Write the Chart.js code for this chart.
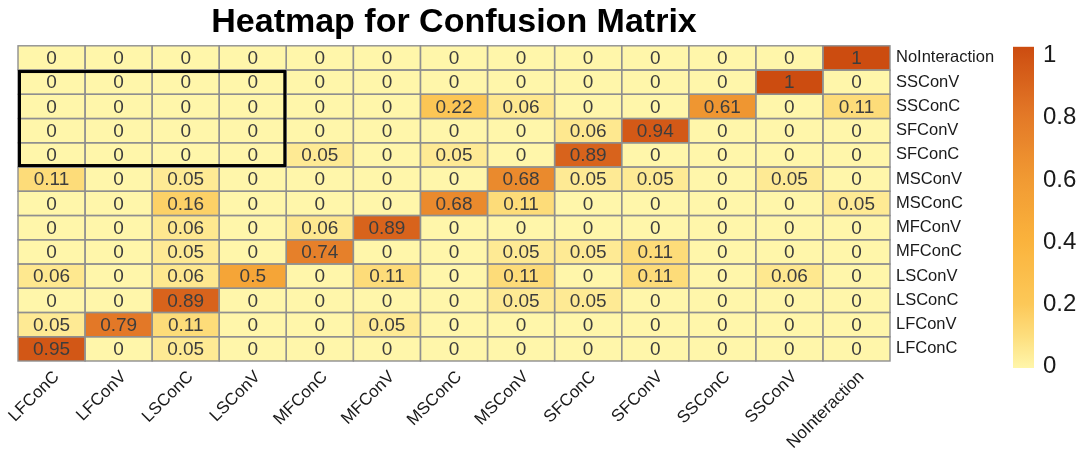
<!DOCTYPE html>
<html>
<head>
<meta charset="utf-8">
<script src="https://cdn.jsdelivr.net/npm/chart.js@4.4.0/dist/chart.umd.min.js"></script>
<style>html,body{margin:0;background:#fff}</style>
</head>
<body>
<canvas id="heatmap" width="1082" height="451"></canvas>
<script>
// predicted classes along the bottom, actual classes on the right (bottom -> top)
const predicted = ["LFConC", "LFConV", "LSConC", "LSConV", "MFConC", "MFConV", "MSConC", "MSConV", "SFConC", "SFConV", "SSConC", "SSConV", "NoInteraction"];
const actual = ["LFConC", "LFConV", "LSConC", "LSConV", "MFConC", "MFConV", "MSConC", "MSConV", "SFConC", "SFConV", "SSConC", "SSConV", "NoInteraction"];

const rowNoInteraction = [0, 0, 0, 0, 0, 0, 0, 0, 0, 0, 0, 0, 1];
const rowSSConV = [0, 0, 0, 0, 0, 0, 0, 0, 0, 0, 0, 1, 0];
const rowSSConC = [0, 0, 0, 0, 0, 0, 0.22, 0.06, 0, 0, 0.61, 0, 0.11];
const rowSFConV = [0, 0, 0, 0, 0, 0, 0, 0, 0.06, 0.94, 0, 0, 0];
const rowSFConC = [0, 0, 0, 0, 0.05, 0, 0.05, 0, 0.89, 0, 0, 0, 0];
const rowMSConV = [0.11, 0, 0.05, 0, 0, 0, 0, 0.68, 0.05, 0.05, 0, 0.05, 0];
const rowMSConC = [0, 0, 0.16, 0, 0, 0, 0.68, 0.11, 0, 0, 0, 0, 0.05];
const rowMFConV = [0, 0, 0.06, 0, 0.06, 0.89, 0, 0, 0, 0, 0, 0, 0];
const rowMFConC = [0, 0, 0.05, 0, 0.74, 0, 0, 0.05, 0.05, 0.11, 0, 0, 0];
const rowLSConV = [0.06, 0, 0.06, 0.5, 0, 0.11, 0, 0.11, 0, 0.11, 0, 0.06, 0];
const rowLSConC = [0, 0, 0.89, 0, 0, 0, 0, 0.05, 0.05, 0, 0, 0, 0];
const rowLFConV = [0.05, 0.79, 0.11, 0, 0, 0.05, 0, 0, 0, 0, 0, 0, 0];
const rowLFConC = [0.95, 0, 0.05, 0, 0, 0, 0, 0, 0, 0, 0, 0, 0];

// same order as `actual` (bottom row first)
const matrix = [rowLFConC, rowLFConV, rowLSConC, rowLSConV, rowMFConC, rowMFConV,
  rowMSConC, rowMSConV, rowSFConC, rowSFConV, rowSSConC, rowSSConV, rowNoInteraction];

// highlighted block
const boxCols = ["LFConC", "LSConV"];
const boxRows = ["SFConC", "SSConV"];

const legendTicks = [0, 0.2, 0.4, 0.6, 0.8, 1];

const colorStops = [
  [0, [255, 246, 170]],
  [0.1, [253, 222, 125]],
  [0.2, [252, 200, 88]],
  [0.4, [250, 178, 60]],
  [0.6, [240, 152, 50]],
  [0.8, [226, 118, 38]],
  [1, [204, 76, 16]]
];

function fillColor(v) {
  for (let i = 1; i < colorStops.length; i++) {
    const [v1, c1] = colorStops[i];
    const [v0, c0] = colorStops[i - 1];
    if (v <= v1) {
      const t = (v - v0) / (v1 - v0);
      const c = c0.map((a, k) => Math.round(a + (c1[k] - a) * t));
      return "rgb(" + c.join(",") + ")";
    }
  }
  return "rgb(" + colorStops[colorStops.length - 1][1].join(",") + ")";
}

const FONT = "'Liberation Sans', Arial, sans-serif";

const cellPlugin = {
  id: "cells",
  afterDatasetsDraw(chart) {
    const ctx = chart.ctx;
    ctx.save();
    // cell outlines
    ctx.strokeStyle = "#8f8f8f";
    ctx.lineWidth = 1.4;
    chart.data.datasets.forEach((ds, i) => {
      chart.getDatasetMeta(i).data.forEach(el => {
        ctx.strokeRect(el.x - el.width / 2, el.y, el.width, el.base - el.y);
      });
    });
    // values
    ctx.fillStyle = "#3d3d3d";
    ctx.font = "19px " + FONT;
    ctx.textAlign = "center";
    ctx.textBaseline = "middle";
    chart.data.datasets.forEach((ds, i) => {
      chart.getDatasetMeta(i).data.forEach((el, j) => {
        ctx.fillText(String(ds.values[j]), el.x, (el.y + el.base) / 2 + 1);
      });
    });
    // black box
    const c0 = predicted.indexOf(boxCols[0]), c1 = predicted.indexOf(boxCols[1]);
    const r0 = actual.indexOf(boxRows[0]), r1 = actual.indexOf(boxRows[1]);
    const a = chart.getDatasetMeta(r1).data[c0];
    const b = chart.getDatasetMeta(r0).data[c1];
    const lw = 3;
    ctx.strokeStyle = "#000";
    ctx.lineWidth = lw;
    ctx.strokeRect(a.x - a.width / 2 + lw / 2, a.y + lw / 2,
      (b.x + b.width / 2) - (a.x - a.width / 2) - lw, b.base - a.y - lw);
    ctx.restore();
  },
  afterDraw(chart) {
    const ctx = chart.ctx;
    const area = chart.chartArea;
    const x0 = area.right + 123, w = 21;
    const top = area.top + 1, bottom = area.bottom + 7;
    const grad = ctx.createLinearGradient(0, bottom, 0, top);
    for (let k = 0; k <= 20; k++) grad.addColorStop(k / 20, fillColor(k / 20));
    ctx.save();
    ctx.fillStyle = grad;
    ctx.fillRect(x0, top, w, bottom - top);
    const lTop = area.top + 10, lBottom = area.bottom + 5;
    ctx.fillStyle = "#1a1a1a";
    ctx.font = "24px " + FONT;
    ctx.textAlign = "left";
    ctx.textBaseline = "middle";
    legendTicks.forEach(v => {
      ctx.fillText(String(v), x0 + w + 9, lBottom - v * (lBottom - lTop));
    });
    ctx.restore();
  }
};

new Chart(document.getElementById("heatmap"), {
  type: "bar",
  data: {
    labels: predicted,
    datasets: matrix.map((row, i) => ({
      label: actual[i],
      data: row.map(() => 1),
      values: row,
      backgroundColor: row.map(fillColor),
      borderWidth: 0,
      barPercentage: 1,
      categoryPercentage: 1
    }))
  },
  options: {
    responsive: false,
    animation: false,
    layout: { padding: { left: 18, right: 0, top: 0, bottom: 0 } },
    plugins: {
      legend: { display: false },
      tooltip: { enabled: false },
      title: {
        display: true,
        fullSize: false,
        text: "Heatmap for Confusion Matrix",
        color: "#000",
        font: { family: FONT, size: 34, weight: "bold", lineHeight: 1.2 },
        padding: { top: 2, bottom: 3 }
      }
    },
    scales: {
      x: {
        stacked: true,
        grid: { display: false, drawTicks: false },
        border: { display: false },
        ticks: {
          color: "#1a1a1a",
          font: { family: FONT, size: 17 },
          minRotation: 45,
          maxRotation: 45,
          labelOffset: 5,
          padding: 6
        },
        afterFit(scale) { scale.height = 90; }
      },
      y: {
        stacked: true,
        position: "right",
        min: 0,
        max: actual.length,
        grid: { display: false, drawTicks: false },
        border: { display: false },
        afterBuildTicks(scale) {
          scale.ticks = actual.map((_, i) => ({ value: i + 0.5 }));
        },
        ticks: {
          color: "#1a1a1a",
          font: { family: FONT, size: 16.5 },
          padding: 6,
          callback: (v) => actual[Math.floor(v)]
        },
        afterFit(scale) { scale.width = 192; }
      }
    }
  },
  plugins: [cellPlugin]
});
</script>
</body>
</html>
